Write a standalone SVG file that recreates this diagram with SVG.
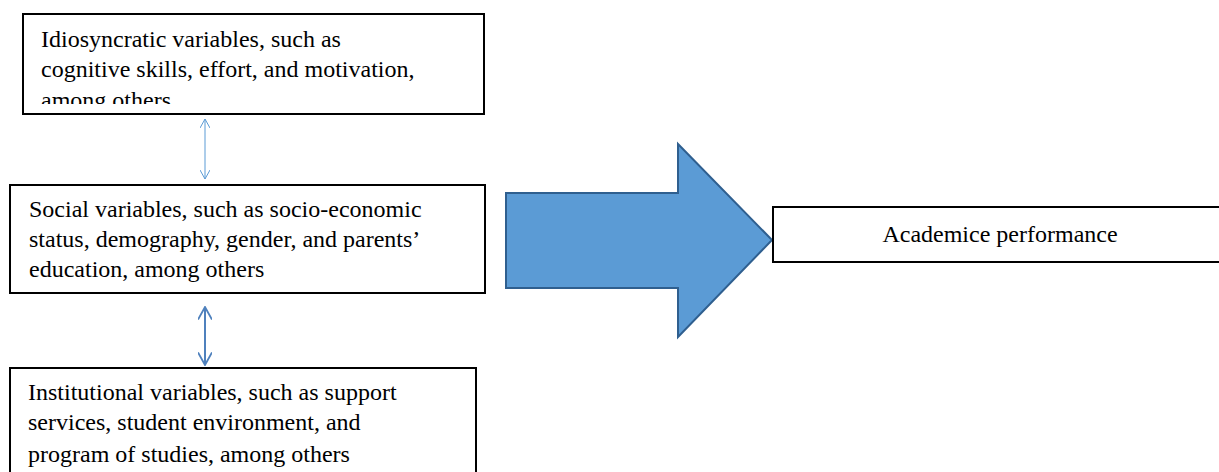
<svg xmlns="http://www.w3.org/2000/svg" width="1219" height="472" viewBox="0 0 1219 472">
<style>
.box{fill:#fff;stroke:#000;stroke-width:2}
</style>
<defs>
<clipPath id="c1"><rect x="23" y="14" width="461" height="90"/></clipPath>
<marker id="oa1" viewBox="0 0 10 10" refX="9" refY="5" markerWidth="10" markerHeight="10" markerUnits="userSpaceOnUse" orient="auto-start-reverse"><path d="M0,0 L9,5 L0,10" fill="none" stroke="#5B9BD5" stroke-width="1"/></marker>
<marker id="oa2" viewBox="0 0 10 10" refX="9" refY="5" markerWidth="14" markerHeight="14" markerUnits="userSpaceOnUse" orient="auto-start-reverse"><path d="M0,0 L9,5 L0,10" fill="none" stroke="#4F81BD" stroke-width="1.3"/></marker>
</defs>
<rect width="1219" height="472" fill="#fff"/>
<g id="connectors">
<line x1="205" y1="119" x2="205" y2="179" stroke="#5B9BD5" stroke-width="1" marker-start="url(#oa1)" marker-end="url(#oa1)"/>
<line x1="205" y1="307" x2="205" y2="365" stroke="#4F81BD" stroke-width="2" marker-start="url(#oa2)" marker-end="url(#oa2)"/>
<path id="bigarrow" d="M506,193 L678,193 L678,144 L772,240 L678,337 L678,288 L506,288 Z" fill="#5B9BD5" stroke="#2F5F8F" stroke-width="2" stroke-linejoin="miter"/>
</g>
<g font-family="Liberation Serif" font-size="24" fill="#000">
<g id="node-idiosyncratic">
<rect class="box" x="23" y="14" width="461" height="100"/>
<g clip-path="url(#c1)">
<text x="41" y="47">Idiosyncratic variables, such as</text>
<text x="41" y="77">cognitive skills, effort, and motivation,</text>
<text x="41" y="108">among others</text>
</g>
</g>
<g id="node-social">
<rect class="box" x="10" y="185" width="475" height="108"/>
<text x="29" y="217">Social variables, such as socio-economic</text>
<text x="29" y="247">status, demography, gender, and parents&#8217;</text>
<text x="29" y="277">education, among others</text>
</g>
<g id="node-institutional">
<rect class="box" x="10" y="368" width="466" height="110"/>
<text x="28" y="400">Institutional variables, such as support</text>
<text x="28" y="430">services, student environment, and</text>
<text x="28" y="462">program of studies, among others</text>
</g>
<g id="node-academic">
<rect class="box" x="773" y="207" width="450" height="55"/>
<text x="1000" y="242" text-anchor="middle">Academice performance</text>
</g>
</g>
</svg>
